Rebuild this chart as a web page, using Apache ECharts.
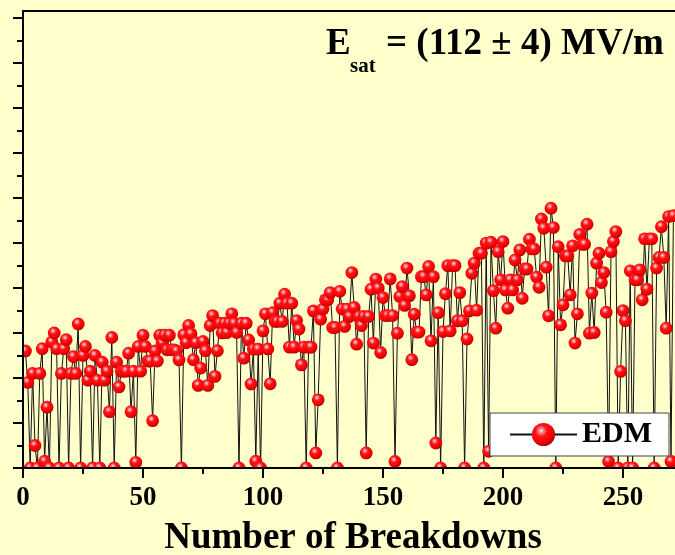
<!DOCTYPE html>
<html>
<head>
<meta charset="utf-8">
<title>EDM breakdown history</title>
<script src="https://cdn.jsdelivr.net/npm/echarts@6/dist/echarts.min.js"></script>
<style>
  html, body { margin: 0; padding: 0; background: #ffffcc; }
  #chart { width: 675px; height: 555px; }
</style>
</head>
<body>
<div id="chart"></div>
<script>
// Field reached before each breakdown (MV/m), breakdown number = index + 1
const fieldValues = [
  52, 38, 0, 42, 10, 0, 42, 53, 3, 27,
  0, 56, 60, 53, 0, 42, 53, 57, 0, 42,
  49.5, 42, 64, 0, 50, 54, 39, 43, 0, 50,
  39, 0, 47, 39, 43, 25, 58, 0, 47, 36,
  43, 43, 43, 51, 25, 43, 2.5, 54, 43, 59,
  54, 47.5, 47.5, 21, 52, 47.5, 59, 55.5, 59, 52.5,
  59, 52.5, 52.5, 52, 48, 0, 59.2, 55.7, 63.3, 59.6,
  48.1, 55.7, 36.7, 44.4, 56.2, 52.1, 36.7, 63.3, 67.7, 40.7,
  52.1, 64.3, 60, 64.3, 60.2, 64.3, 68.5, 64.3, 60.2, 0,
  64.3, 48.8, 64.3, 56.9, 37.3, 52.8, 3, 52.8, 0, 60.9,
  68.5, 52.9, 37.4, 69, 65.1, 65.1, 73.2, 65.1, 77.2, 73.2,
  53.7, 73.2, 53.7, 65.5, 61.7, 45.8, 53.7, 0, 53.7, 53.7,
  69.8, 6.7, 30.3, 66.1, 70.6, 74.7, 74.7, 77.9, 62.4, 62.4,
  0, 78.5, 70.6, 62.9, 70.6, 67.3, 86.8, 71.3, 55, 67.3,
  63.3, 67.3, 6.7, 67.3, 79.4, 55.5, 83.9, 79.9, 51.3, 75.7,
  67.7, 67.7, 84, 67.7, 2.9, 59.9, 76.2, 80.6, 72.2, 88.8,
  76.5, 48.1, 68.3, 60.4, 60.4, 85, 85, 76.9, 89.5, 56.5,
  85, 11.1, 69, 0, 60.6, 77.4, 89.9, 60.9, 89.9, 89.9,
  65.4, 77.9, 65.4, 0, 57.3, 69.8, 86.5, 91, 70.1, 95.4,
  95.4, 0, 99.9, 7.4, 100.3, 78.8, 62.1, 96.1, 83.6, 100.6,
  79.1, 71, 83.6, 79.1, 92.4, 83.6, 96.9, 75.4, 88.4, 88.4,
  101.6, 97.3, 97.3, 84.8, 80.3, 110.6, 106.5, 89.2, 67.6, 115.4,
  106.8, 0, 98.3, 63.6, 72.5, 94.2, 94.2, 76.9, 98.7, 55.5,
  68.5, 103.8, 99.4, 99.4, 108.3, 59.9, 77.7, 60.2, 91, 95.4,
  82.4, 86.8, 69.2, 2.9, 96.1, 100.6, 105, 0, 42.9, 69.9,
  65.4, 0, 87.6, 0, 83.6, 83.6, 88, 74.7, 101.8, 79.4,
  101.8, 101.8, 0, 88.8, 93.5, 107.2, 93.5, 62.1, 111.7, 2.9, 112.1
];

// Axis tick positions
const xMajorTicks = [0, 50, 100, 150, 200, 250];
const xMinorTicks = [25, 75, 125, 175, 225];
const yMajorTicks = [0, 20, 40, 60, 80, 100, 120, 140, 160, 180, 200];
const yMinorTicks = [10, 30, 50, 70, 90, 110, 130, 150, 170, 190];

const seriesName = 'EDM';
const fitLabel = { main: 'E', sub: 'sat', rest: '= (112 \u00b1 4) MV/m' };
const xAxisTitle = 'Number of Breakdowns';

const points = fieldValues.map((v, i) => [i + 1, v]);

const serif = '"Liberation Serif", "Times New Roman", serif';
const axisColor = '#000';

function sphereFill() {
  return new echarts.graphic.RadialGradient(0.4, 0.34, 0.68, [
    { offset: 0, color: '#fff0f2' },
    { offset: 0.14, color: '#ff8c98' },
    { offset: 0.36, color: '#ff1418' },
    { offset: 0.75, color: '#f20000' },
    { offset: 1, color: '#a80000' }
  ]);
}

const chart = echarts.init(document.getElementById('chart'), null, { renderer: 'canvas' });

chart.setOption({
  animation: false,
  backgroundColor: '#ffffcc',
  grid: {
    left: 23, top: 11, width: 660, height: 457,
    containLabel: false, outerBoundsMode: 'none'
  },
  legend: {
    data: [seriesName],
    left: 490, top: 413,
    backgroundColor: '#ffffff',
    borderColor: '#444',
    borderWidth: 1,
    borderRadius: 0,
    padding: [6, 17, 6, 19],
    itemWidth: 67,
    itemHeight: 29,
    selectedMode: false,
    textStyle: { fontFamily: serif, fontWeight: 'bold', fontSize: 30, color: '#000', lineHeight: 31 },
    z: 10
  },
  xAxis: [
    {
      type: 'value', position: 'bottom', min: 0, max: 275, z: 5,
      name: xAxisTitle, nameLocation: 'middle', nameGap: 52,
      nameTextStyle: { fontFamily: serif, fontWeight: 'bold', fontSize: 37, color: '#000' },
      axisLine: { show: true, onZero: false, lineStyle: { color: axisColor, width: 2 } },
      axisTick: { show: true, inside: false, length: 10, customValues: xMajorTicks, lineStyle: { color: axisColor, width: 2 } },
      axisLabel: { show: true, margin: 17, customValues: xMajorTicks, fontFamily: serif, fontWeight: 'bold', fontSize: 27, color: '#000' },
      splitLine: { show: false }
    },
    {
      type: 'value', position: 'bottom', min: 0, max: 275, z: 5,
      axisLine: { show: false },
      axisTick: { show: true, inside: false, length: 6, customValues: xMinorTicks, lineStyle: { color: axisColor, width: 2 } },
      axisLabel: { show: false },
      splitLine: { show: false }
    },
    {
      type: 'value', position: 'top', min: 0, max: 275, z: 5,
      axisLine: { show: true, onZero: false, lineStyle: { color: axisColor, width: 2 } },
      axisTick: { show: false },
      axisLabel: { show: false },
      splitLine: { show: false }
    }
  ],
  yAxis: [
    {
      type: 'value', position: 'left', min: 0, max: 203, z: 5,
      axisLine: { show: true, onZero: false, lineStyle: { color: axisColor, width: 2 } },
      axisTick: { show: true, inside: false, length: 10, customValues: yMajorTicks, lineStyle: { color: axisColor, width: 2 } },
      axisLabel: { show: false },
      splitLine: { show: false }
    },
    {
      type: 'value', position: 'left', min: 0, max: 203, z: 5,
      axisLine: { show: false },
      axisTick: { show: true, inside: false, length: 6, customValues: yMinorTicks, lineStyle: { color: axisColor, width: 2 } },
      axisLabel: { show: false },
      splitLine: { show: false }
    }
  ],
  graphic: [
    { type: 'text', x: 326, y: 44.2, style: { text: fitLabel.main, font: 'bold 37px ' + serif, fill: '#000', align: 'left', verticalAlign: 'middle' } },
    { type: 'text', x: 350, y: 66.2, style: { text: fitLabel.sub, font: 'bold 21px ' + serif, fill: '#000', align: 'left', verticalAlign: 'middle' } },
    { type: 'text', x: 386, y: 44.2, style: { text: fitLabel.rest, font: 'bold 37px ' + serif, fill: '#000', align: 'left', verticalAlign: 'middle' } }
  ],
  series: [
    {
      name: seriesName,
      type: 'line',
      xAxisIndex: 0, yAxisIndex: 0,
      data: points,
      symbol: 'circle',
      showSymbol: false,
      clip: true,
      lineStyle: { color: '#111', width: 1 },
      itemStyle: { color: sphereFill() },
      emphasis: { disabled: true },
      z: 2
    },
    {
      name: 'EDM spheres',
      type: 'custom',
      xAxisIndex: 0, yAxisIndex: 0,
      data: points,
      encode: { x: 0, y: 1 },
      clip: true,
      z: 3,
      renderItem: function (params, api) {
        const p = api.coord([api.value(0), api.value(1)]);
        return {
          type: 'circle',
          shape: { cx: p[0], cy: p[1], r: 6.4 },
          style: { fill: sphereFill() }
        };
      }
    }
  ]
});
</script>
</body>
</html>
